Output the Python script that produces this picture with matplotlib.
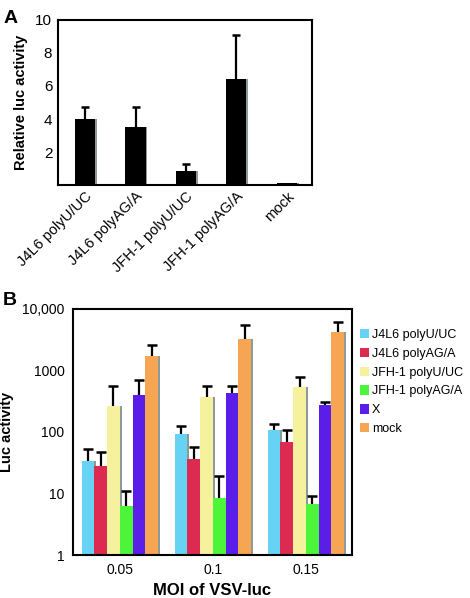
import matplotlib.pyplot as plt
import numpy as np
from matplotlib.ticker import FixedLocator, NullLocator

# panel A data
a_labels = ['J4L6 polyU/UC', 'J4L6 polyAG/A', 'JFH-1 polyU/UC', 'JFH-1 polyAG/A', 'mock']
a_values = [4.0, 3.5, 0.85, 6.4, 0.1]
a_err_top = [4.7, 4.7, 1.25, 9.1, 0.1]

# panel B data
moi = ['0.05', '0.1', '0.15']
series = ['J4L6 polyU/UC', 'J4L6 polyAG/A', 'JFH-1 polyU/UC', 'JFH-1 polyAG/A', 'X', 'mock']
colors = ['#66d3f5', '#dc2a50', '#f5f19c', '#4cf43a', '#5a1ee8', '#f6a553']
b_values = [
    [34, 94, 106],
    [28, 37, 70],
    [261, 366, 532],
    [6.3, 8.3, 6.7],
    [395, 431, 272],
    [1700, 3250, 4170],
]
b_err_top = [
    [53, 127, 137],
    [48, 58, 106],
    [567, 553, 774],
    [11, 19, 9.2],
    [710, 553, 304],
    [2630, 5560, 6040],
]


def top_errors(ax, xs, vals, tops, cap):
    # only the upper half of the error bar, "T" shaped
    ax.vlines(xs, vals, tops, color='black', linewidth=1.6, zorder=3)
    ax.plot(xs, tops, linestyle='none', marker='_', markersize=cap,
            markeredgewidth=1.8, color='black', zorder=3)


plt.rcParams['font.family'] = ['Liberation Sans', 'DejaVu Sans']
fig = plt.figure(figsize=(4.7, 5.98), dpi=100)

# ---- panel A ----
ax = fig.add_axes([0.123, 0.6906, 0.541, 0.276])
x = np.arange(len(a_labels))
ax.bar(x + 0.035, a_values, width=0.4, color='#8c9a9a', zorder=1)
ax.bar(x, a_values, width=0.4, color='black', zorder=2)
top_errors(ax, x[:4], a_values[:4], a_err_top[:4], 6)
ax.set_xlim(-0.54, 4.5)
ax.set_ylim(0, 10)
ax.set_yticks([2, 4, 6, 8, 10])
ax.set_xticks(x)
ax.set_xticklabels(a_labels, rotation=45, ha='right', rotation_mode='anchor')
ax.tick_params(axis='y', length=0, pad=4, labelsize=11)
ax.tick_params(axis='x', length=0, pad=3, labelsize=10.5)
for s in ax.spines.values():
    s.set_linewidth(1.5)
ax.set_ylabel('Relative luc activity', fontweight='bold', fontsize=10.5, labelpad=5)
fig.text(0.008, 0.962, 'A', fontsize=14, fontweight='bold')

# ---- panel B ----
bx = fig.add_axes([0.155, 0.0719, 0.594, 0.4114])
w = 0.137
gx = np.arange(len(moi))
for i, name in enumerate(series):
    xs = gx + (i - 2.5) * w
    bx.bar(xs + 0.018, b_values[i], width=w, color='#8c9a9a', zorder=1)
    bx.bar(xs, b_values[i], width=w, color=colors[i], label=name, zorder=2)
    top_errors(bx, xs, b_values[i], b_err_top[i], 7)
bx.set_yscale('log')
bx.set_ylim(1, 10000)
bx.set_xlim(-0.505, 2.495)
bx.yaxis.set_major_locator(FixedLocator([1, 10, 100, 1000, 10000]))
bx.yaxis.set_minor_locator(NullLocator())
bx.set_yticklabels(['1', '10', '100', '1000', '10,000'])
bx.set_xticks(gx)
bx.set_xticklabels(moi)
bx.tick_params(axis='both', length=0, labelsize=10, pad=6)
for s in bx.spines.values():
    s.set_linewidth(1.5)
bx.set_xlabel('MOI of VSV-luc', fontweight='bold', fontsize=12, labelpad=4)
bx.set_ylabel('Luc activity', fontweight='bold', fontsize=10.5, labelpad=6)
bx.legend(loc='upper left', bbox_to_anchor=(1.0, 0.95), frameon=False, fontsize=9,
          handlelength=0.75, handleheight=0.75, handletextpad=0.25, labelspacing=0.55,
          borderaxespad=0.3, borderpad=0.3)
fig.text(0.005, 0.49, 'B', fontsize=14, fontweight='bold')

fig.savefig('out.png', dpi=100)
